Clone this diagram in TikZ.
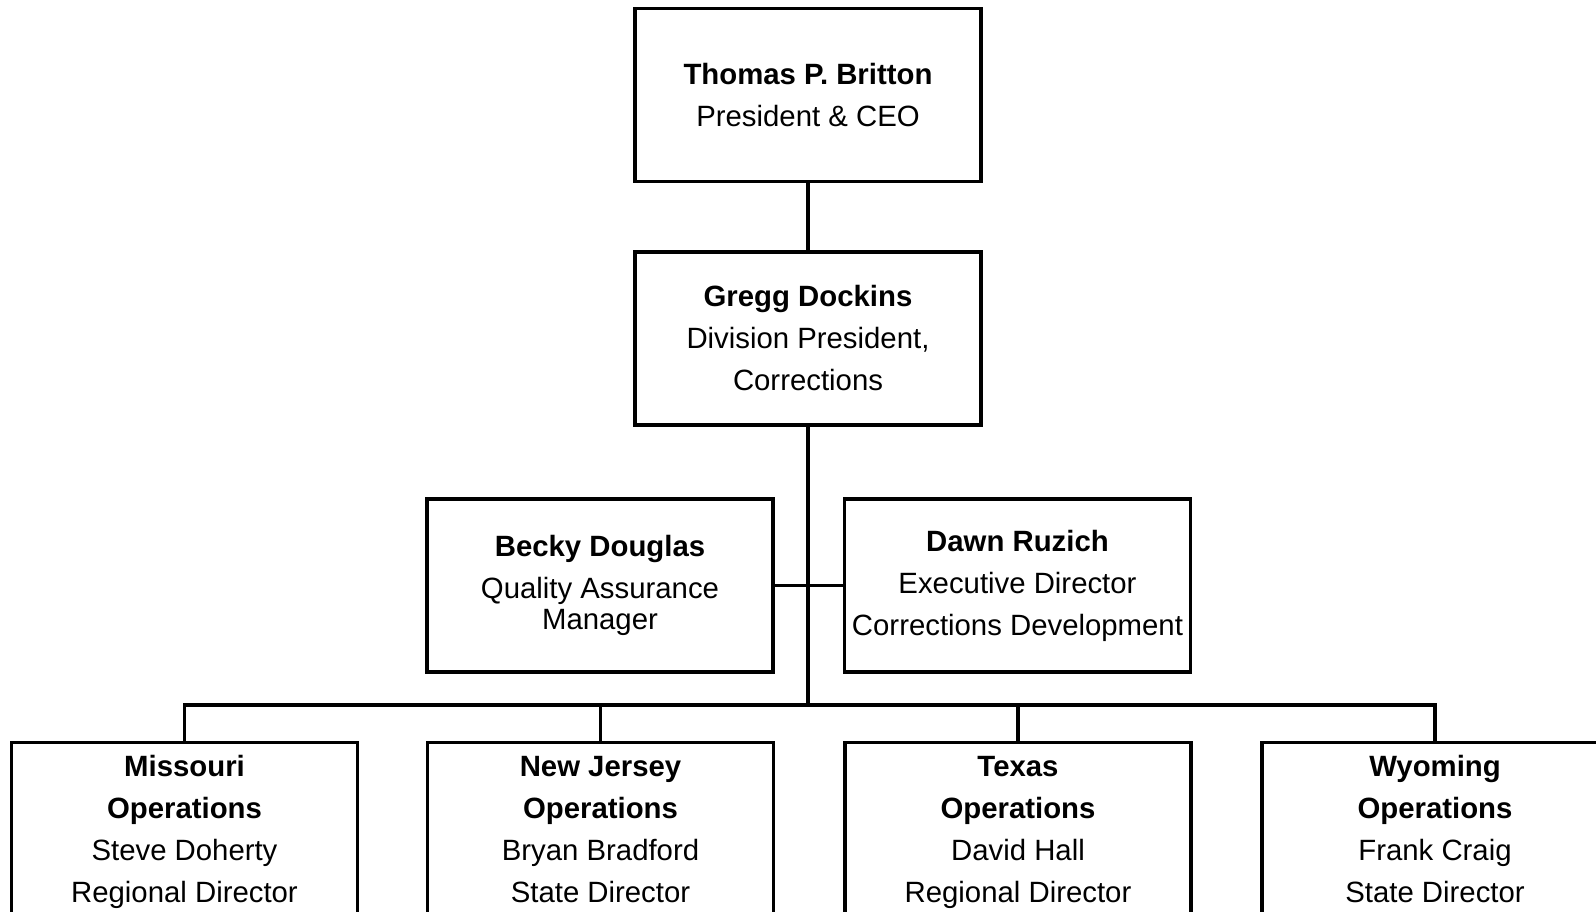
\documentclass[tikz,border=0pt]{standalone}
\usepackage{fontspec}
\setmainfont{Liberation Sans}

\begin{document}
\begin{tikzpicture}[
    x=0.02cm, y=-0.02cm,
    box/.style={rectangle, draw, line width=2.2pt, minimum width=6.92cm, minimum height=3.46cm, inner sep=2pt, align=center, font=\fontsize{16.7}{23.9}\selectfont},
    link/.style={line width=2.2pt},
]
\useasboundingbox (0,0) rectangle (1596,912);

\node[box] (ceo) at (808, 95) {\textbf{Thomas P. Britton}\\President \& CEO};
\node[box] (gregg) at (808, 338.5) {\textbf{Gregg Dockins}\\Division President,\\Corrections};
\node[box] (becky) at (600, 585.5) {\textbf{Becky Douglas}\\Quality Assurance\\[-6.3pt]Manager};
\node[box] (dawn) at (1017.5, 585.5) {\textbf{Dawn Ruzich}\\Executive Director\\Corrections Development};
\node[box] (missouri) at (184.5, 829) {\textbf{Missouri}\\\textbf{Operations}\\Steve Doherty\\\smash{Regional Director}};
\node[box] (jersey) at (600.5, 829) {\textbf{New Jersey}\\\textbf{Operations}\\Bryan Bradford\\\smash{State Director}};
\node[box] (texas) at (1018, 829) {\textbf{Texas}\\\textbf{Operations}\\David Hall\\\smash{Regional Director}};
\node[box] (wyoming) at (1435, 829) {\textbf{Wyoming}\\\textbf{Operations}\\Frank Craig\\\smash{State Director}};

\coordinate (bus) at (808, 705);

\draw[link] (ceo.south) -- (gregg.north);
\draw[link] (gregg.south) -- (bus);
\draw[link] (becky.east) -- (dawn.west);
\draw[link] (bus) -| (missouri.north);
\draw[link] (bus) -| (jersey.north);
\draw[link] (bus) -| (texas.north);
\draw[link] (bus) -| (wyoming.north);

\end{tikzpicture}
\end{document}
